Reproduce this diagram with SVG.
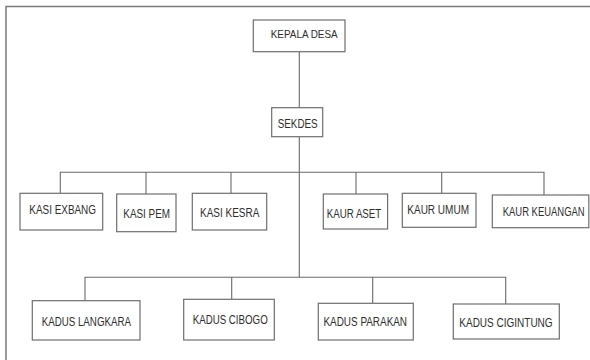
<svg xmlns="http://www.w3.org/2000/svg" width="590" height="360" viewBox="0 0 590 360">
<style>
.box{fill:#fff;stroke:#6e6e6e;stroke-width:1.2}
.lbl{font-family:"Liberation Sans",Arial,sans-serif;font-size:12.5px;fill:#2e2e2e}
.ln{stroke:#6a6a6a;stroke-width:1.1;fill:none}
.frame{fill:none;stroke:#7a7a7a;stroke-width:1.5}
</style>
<rect width="590" height="360" fill="#fff"/>
<rect class="frame" x="6" y="6.5" width="600" height="380"/>
<g id="connectors">
<path class="ln" d="M299.3 51.7V107.7M299.3 136.7V277.3"/>
<path class="ln" d="M60.3 193.3V172.3H544V195M146 172.3V194M231 172.3V193.3M356 172.3V194M441.7 172.3V193.3"/>
<path class="ln" d="M85 300.7V277.3H505.7V304M231.7 277.3V299.3M372.7 277.3V303.3"/>
</g>
<g id="kepala-desa"><rect class="box" x="253.3" y="20" width="91.7" height="31.7"/><text class="lbl" x="270.7" y="38.3" textLength="67" lengthAdjust="spacingAndGlyphs" style="font-size:11.5px">KEPALA DESA</text></g>
<g id="sekdes"><rect class="box" x="271.7" y="107.7" width="51" height="29"/><text class="lbl" x="277.7" y="128.3" textLength="40" lengthAdjust="spacingAndGlyphs">SEKDES</text></g>
<g id="kasi-exbang"><rect class="box" x="20" y="193.3" width="82.7" height="36.7"/><text class="lbl" x="29.3" y="214.3" textLength="66.7" lengthAdjust="spacingAndGlyphs">KASI EXBANG</text></g>
<g id="kasi-pem"><rect class="box" x="116.7" y="194" width="59.3" height="37.7"/><text class="lbl" x="123.3" y="217.7" textLength="46.7" lengthAdjust="spacingAndGlyphs">KASI PEM</text></g>
<g id="kasi-kesra"><rect class="box" x="192.3" y="193.3" width="74.4" height="36.7"/><text class="lbl" x="200" y="217.3" textLength="59.3" lengthAdjust="spacingAndGlyphs">KASI KESRA</text></g>
<g id="kaur-aset"><rect class="box" x="323.3" y="194" width="64.3" height="35"/><text class="lbl" x="326.7" y="217.7" textLength="54.6" lengthAdjust="spacingAndGlyphs">KAUR ASET</text></g>
<g id="kaur-umum"><rect class="box" x="402.3" y="193.3" width="73.7" height="34"/><text class="lbl" x="407.3" y="214.3" textLength="61.7" lengthAdjust="spacingAndGlyphs">KAUR UMUM</text></g>
<g id="kaur-keuangan"><rect class="box" x="492.3" y="195" width="96.5" height="32.7"/><text class="lbl" transform="translate(502.7 215.5) scale(0.76 1)" x="0" y="0" textLength="107.9" lengthAdjust="spacingAndGlyphs">KAUR KEUANGAN</text></g>
<g id="kadus-langkara"><rect class="box" x="32.3" y="300.7" width="107.7" height="39.3"/><text class="lbl" x="41.7" y="325.7" textLength="89.3" lengthAdjust="spacingAndGlyphs">KADUS LANGKARA</text></g>
<g id="kadus-cibogo"><rect class="box" x="183.7" y="299.3" width="90.6" height="40.7"/><text class="lbl" x="192.7" y="324.3" textLength="75" lengthAdjust="spacingAndGlyphs">KADUS CIBOGO</text></g>
<g id="kadus-parakan"><rect class="box" x="318.3" y="303.3" width="95" height="36.7"/><text class="lbl" x="323.5" y="326" textLength="83.5" lengthAdjust="spacingAndGlyphs">KADUS PARAKAN</text></g>
<g id="kadus-cigintung"><rect class="box" x="453.3" y="304" width="106" height="35"/><text class="lbl" x="459.3" y="326.7" textLength="93.3" lengthAdjust="spacingAndGlyphs">KADUS CIGINTUNG</text></g>
</svg>
